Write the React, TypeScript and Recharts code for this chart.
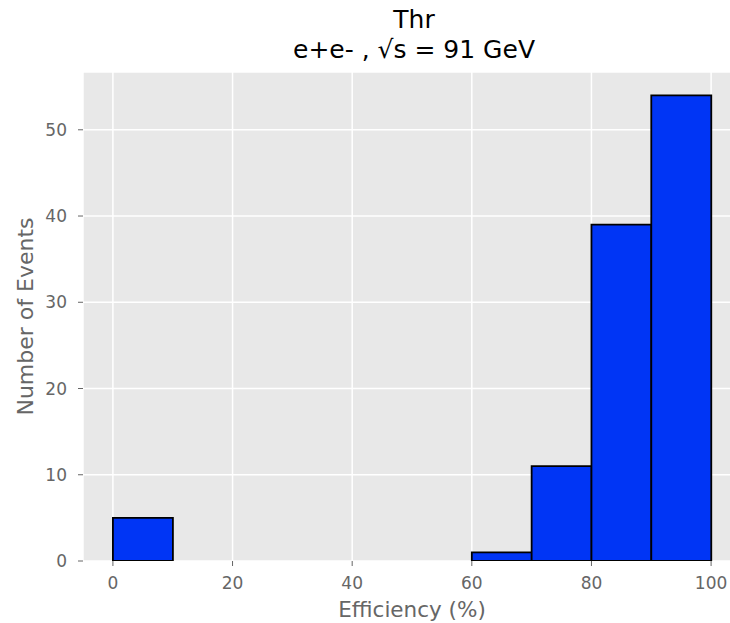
import { BarChart, Bar, XAxis, YAxis, CartesianGrid, Label } from "recharts";

// histogram bins (lower edge, %) and event counts per 10% bin
const binEdges = [0, 10, 20, 30, 40, 50, 60, 70, 80, 90];
const counts = [5, 0, 0, 0, 0, 0, 1, 11, 39, 54];
const binWidth = 10;

const xTicks = [0, 20, 40, 60, 80, 100];
const yTicks = [0, 10, 20, 30, 40, 50];

const titleLines = ["Thr", "e+e- , \u221As = 91 GeV"];

const data = binEdges.map((lo, i) => ({ center: lo + binWidth / 2, count: counts[i] }));

const FONT = "'DejaVu Sans', sans-serif";
const GREY = "#666666";

const YTitle = ({ viewBox }: any) => {
  const cy = viewBox.y + viewBox.height / 2;
  const x = 33;
  return (
    <text
      x={x}
      y={cy}
      transform={`rotate(-90, ${x}, ${cy})`}
      textAnchor="middle"
      fill={GREY}
      fontSize={22}
      fontFamily={FONT}
    >
      Number of Events
    </text>
  );
};

export default function App() {
  return (
    <div
      style={{
        position: "absolute",
        left: 0,
        top: 0,
        width: 730,
        height: 623,
        overflow: "hidden",
        background: "#fff",
        fontFamily: FONT,
      }}
    >
      <div
        style={{
          position: "absolute",
          left: 83,
          top: 5,
          width: 662,
          textAlign: "center",
          fontSize: 25,
          lineHeight: "30px",
          color: "#000",
        }}
      >
        {titleLines.map((t) => (
          <div key={t}>{t}</div>
        ))}
      </div>
      <BarChart
        width={741}
        height={623}
        data={data}
        margin={{ top: 72, right: 0, bottom: 0, left: 0 }}
        barCategoryGap={0}
        barGap={0}
      >
        <CartesianGrid stroke="#ffffff" strokeWidth={1.5} fill="#E8E8E8" />
        <XAxis
          type="number"
          dataKey="center"
          domain={[-5, 105]}
          ticks={xTicks}
          height={62}
          axisLine={false}
          tickLine={{ stroke: GREY, strokeWidth: 1 }}
          tickSize={5}
          tickMargin={11}
          tick={{ fill: GREY, fontSize: 17, fontFamily: FONT }}
          allowDataOverflow
        >
          <Label
            value="Efficiency (%)"
            position="insideBottom"
            offset={6}
            fill={GREY}
            fontSize={21.5}
            fontFamily={FONT}
          />
        </XAxis>
        <YAxis
          type="number"
          domain={[0, 56.7]}
          ticks={yTicks}
          width={83}
          axisLine={false}
          tickLine={{ stroke: GREY, strokeWidth: 1 }}
          tickSize={5}
          tickMargin={11}
          tick={{ fill: GREY, fontSize: 17, fontFamily: FONT }}
          allowDataOverflow
        >
          <Label content={YTitle} />
        </YAxis>
        <Bar
          dataKey="count"
          fill="#0035f5"
          stroke="#000000"
          strokeWidth={1.8}
          isAnimationActive={false}
        />
      </BarChart>
    </div>
  );
}
